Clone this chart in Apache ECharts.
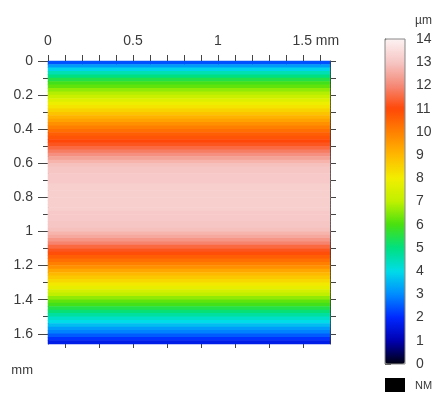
<!DOCTYPE html>
<html>
<head>
<meta charset="utf-8">
<script src="https://cdn.jsdelivr.net/npm/echarts@6/dist/echarts.min.js"></script>
<style>
  html, body { margin: 0; padding: 0; background: #fff; }
  #chart { width: 442px; height: 394px; }
</style>
</head>
<body>
<div id="chart"></div>
<script>
// height profile, one value (µm) per 0.02 mm row, top to bottom
const rowStart = [];
const rowValues = [
  2.4, 3.2, 3.9, 4.5, 5.0, 5.5, 5.9, 6.2, 6.6, 6.9,
  7.2, 7.6, 7.9, 8.2, 8.5, 8.8, 9.1, 9.4, 9.7, 10.0,
  10.3, 10.6, 10.8, 11.0, 11.2, 11.5, 11.8, 12.1, 12.4, 12.7,
  12.9, 13.0, 13.0, 13.1, 13.1, 13.1, 13.2, 13.2, 13.2, 13.2,
  13.2, 13.2, 13.2, 13.2, 13.1, 13.1, 13.1, 13.0, 13.0, 12.9,
  12.7, 12.5, 12.2, 11.9, 11.5, 11.2, 10.9, 10.6, 10.3, 10.0,
  9.7, 9.3, 9.0, 8.7, 8.4, 8.1, 7.8, 7.4, 7.0, 6.6,
  6.2, 5.9, 5.5, 5.1, 4.7, 4.3, 4.0, 3.6, 3.2, 2.9,
  2.5, 2.1, 1.7
];
rowValues.forEach((_, i) => rowStart.push((i * 0.02).toFixed(2)));

const xTicks = [0, 0.1, 0.2, 0.3, 0.4, 0.5, 0.6, 0.7, 0.8, 0.9, 1, 1.1, 1.2, 1.3, 1.4, 1.5, 1.6];
const xLabels = [0, 0.5, 1, 1.5];
const evenTicks = [0, 0.2, 0.4, 0.6, 0.8, 1, 1.2, 1.4, 1.6];
const oddTicks = [0.1, 0.3, 0.5, 0.7, 0.9, 1.1, 1.3, 1.5];
const scaleTicks = [0, 1, 2, 3, 4, 5, 6, 7, 8, 9, 10, 11, 12, 13, 14];
const scaleColors = [
  '#000010', '#0000b0', '#0028ff', '#008cff', '#00dce8', '#00e080', '#48e010',
  '#c0f000', '#f2ee00', '#ffb800', '#ff8000', '#ff4808', '#f58a78', '#f6c6c4', '#fdf2f2'
];
const extentMm = 1.66;

const font = 'Liberation Sans, Arial, sans-serif';
const txt = '#3a3a3a';
const line = { lineStyle: { color: '#333', width: 1 } };

const chart = echarts.init(document.getElementById('chart'), null, { renderer: 'canvas' });

const hidden = { show: false };
const valAxis = (extra) => Object.assign({
  type: 'value', gridIndex: 0, min: 0, max: extentMm,
  splitLine: hidden, axisLabel: hidden,
  axisLine: { show: false }, axisTick: { show: false }
}, extra);

chart.setOption({
  animation: false,
  backgroundColor: '#fff',
  grid: [
    { left: 48, top: 61, width: 282, height: 283 },
    { left: 385, top: 39, width: 20, height: 325, show: true, borderColor: '#888', borderWidth: 1, backgroundColor: 'transparent', z: 10 }
  ],
  xAxis: [
    { type: 'category', gridIndex: 0, data: ['all'], show: false },
    valAxis({
      position: 'top',
      axisLine: Object.assign({ show: true }, line),
      axisTick: { show: true, customValues: xTicks, length: 6, lineStyle: { color: '#444' } },
      axisLabel: {
        show: true, customValues: xLabels, margin: 13, fontSize: 14, color: txt, fontFamily: font,
        formatter: (v) => v === 1.5 ? '{u|1.5 mm}' : String(v),
        rich: { u: { fontSize: 14, color: txt, fontFamily: font, padding: [0, 0, 0, 26] } }
      }
    }),
    valAxis({
      position: 'bottom',
      axisLine: Object.assign({ show: true }, line),
      axisTick: { show: true, customValues: evenTicks, length: 9, lineStyle: { color: '#444' } }
    }),
    valAxis({
      position: 'bottom',
      axisTick: { show: true, customValues: oddTicks, length: 4, lineStyle: { color: '#444' } }
    }),
    { type: 'value', gridIndex: 1, min: 0, max: 1, show: false }
  ],
  yAxis: [
    { type: 'category', gridIndex: 0, data: rowStart, inverse: true, show: false },
    valAxis({
      position: 'left', inverse: true,
      axisLine: Object.assign({ show: true }, line),
      axisTick: { show: true, customValues: evenTicks, length: 10, lineStyle: { color: '#444' } },
      axisLabel: { show: true, customValues: evenTicks, margin: 15, fontSize: 14, color: txt, fontFamily: font },
      name: 'mm', nameLocation: 'end', nameGap: 20,
      nameTextStyle: { fontSize: 13, color: txt, fontFamily: font, align: 'right', padding: [0, 15, 0, 0] }
    }),
    valAxis({
      position: 'left', inverse: true,
      axisTick: { show: true, customValues: oddTicks, length: 5, lineStyle: { color: '#444' } }
    }),
    valAxis({
      position: 'right', inverse: true,
      axisLine: Object.assign({ show: true }, line),
      axisTick: { show: true, customValues: xTicks, length: 6, lineStyle: { color: '#444' } }
    }),
    {
      type: 'value', gridIndex: 1, position: 'right', min: 0, max: 14, interval: 1,
      splitLine: hidden,
      axisLine: { show: true, lineStyle: { color: '#444' } },
      axisTick: { show: true, customValues: scaleTicks, length: 6, lineStyle: { color: '#444' } },
      axisLabel: { margin: 11, fontSize: 14, color: txt, fontFamily: font }
    }
  ],
  visualMap: {
    type: 'continuous', seriesIndex: 0, min: 0, max: 14,
    calculable: false, hoverLink: false, text: null,
    left: 385, top: 39, itemWidth: 20, itemHeight: 325, padding: 0,
    inRange: { color: scaleColors }
  },
  graphic: [
    { type: 'text', left: 415, top: 15, style: { text: 'µm', fontSize: 12, fill: txt, fontFamily: font } },
    { type: 'rect', left: 385, top: 378, shape: { width: 20, height: 14 }, style: { fill: '#000' } },
    { type: 'text', left: 415, top: 380, style: { text: 'NM', fontSize: 11, fill: txt, fontFamily: font } }
  ],
  series: [{
    type: 'heatmap', xAxisIndex: 0, yAxisIndex: 0,
    data: rowValues.map((v, i) => [0, i, v]),
    emphasis: { disabled: true }
  }]
});
</script>
</body>
</html>
